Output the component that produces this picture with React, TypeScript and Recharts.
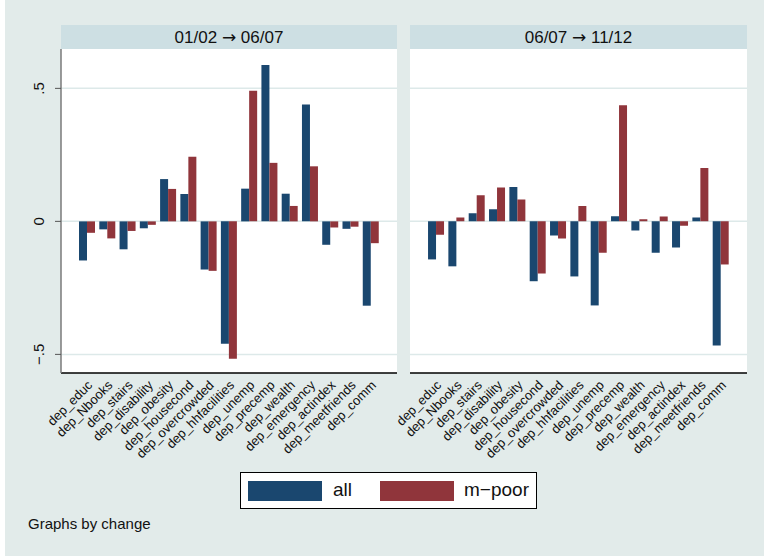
import React from "react";
import { BarChart, Bar, XAxis, YAxis, CartesianGrid } from "recharts";

const categories = [
  'dep_educ', 'dep_Nbooks', 'dep_stairs', 'dep_disability', 'dep_obesity',
  'dep_housecond', 'dep_overcrowded', 'dep_hhfacilities', 'dep_unemp', 'dep_precemp',
  'dep_wealth', 'dep_emergency', 'dep_actindex', 'dep_meetfriends', 'dep_comm',
];
// 01/02 -> 06/07
const allFirst = [-0.147, -0.030, -0.105, -0.026, 0.159, 0.103, -0.181, -0.460, 0.123, 0.588, 0.104, 0.439, -0.088, -0.028, -0.317];
const poorFirst = [-0.043, -0.064, -0.036, -0.013, 0.122, 0.243, -0.186, -0.516, 0.491, 0.220, 0.058, 0.207, -0.023, -0.020, -0.082];
// 06/07 -> 11/12
const allSecond = [-0.143, -0.169, 0.031, 0.046, 0.129, -0.225, -0.053, -0.207, -0.316, 0.019, -0.034, -0.118, -0.098, 0.015, -0.467];
const poorSecond = [-0.050, 0.015, 0.098, 0.127, 0.082, -0.196, -0.064, 0.058, -0.118, 0.437, 0.008, 0.018, -0.016, 0.201, -0.162];
const panelTitles = [['01/02', '06/07'], ['06/07', '11/12']];
const yTicks = [-0.5, 0, 0.5];
const yDomain = [-0.57, 0.648];

const NAVY = '#1a476f';
const MAROON = '#90353b';
const BG = '#e2ebea';
const STRIP = '#cddfe3';
const GRID = '#dde9e9';
const FONT = '"Liberation Sans", Arial, Helvetica, sans-serif';

const firstData = categories.map((name, i) => ({ name, all: allFirst[i], poor: poorFirst[i] }));
const secondData = categories.map((name, i) => ({ name, all: allSecond[i], poor: poorSecond[i] }));

const fmtY = (v: number) => (v === 0 ? '0' : (v < 0 ? '\u2212' : '') + String(Math.abs(v)).replace(/^0/, ''));

const XTick = (props: any) => {
  const { x, y, payload } = props;
  const tx = x + 6;
  const ty = y + 5;
  return (
    <text x={tx} y={ty} transform={`rotate(-45 ${tx} ${ty})`} textAnchor="end" fontSize={13} fill="#111" fontFamily={FONT}>
      {payload.value}
    </text>
  );
};

const YTick = (props: any) => {
  const { y, payload } = props;
  const tx = 44;
  return (
    <text x={tx} y={y} transform={`rotate(-90 ${tx} ${y})`} textAnchor="middle" fontSize={15} fill="#111" fontFamily={FONT}>
      {fmtY(payload.value)}
    </text>
  );
};

const Panel: React.FC<{ data: any[]; showY: boolean; width: number; left: number }> = ({ data, showY, width, left }) => (
  <BarChart width={width} height={430} data={data} margin={{ top: 0, right: 0, bottom: 0, left }} barCategoryGap="10%" barGap={0}>
    <CartesianGrid vertical={false} horizontalValues={yTicks} stroke={GRID} strokeWidth={1.5} />
    <XAxis
      dataKey="name"
      interval={0}
      height={106}
      padding={{ left: 16, right: 16 }}
      tickLine={false}
      axisLine={{ stroke: '#000', strokeWidth: 1.5 }}
      tick={<XTick />}
    />
    <YAxis
      type="number"
      domain={yDomain}
      ticks={yTicks}
      allowDataOverflow
      hide={!showY}
      width={61}
      tickSize={6}
      axisLine={{ stroke: '#7a7a7a', strokeWidth: 1.5 }}
      tickLine={{ stroke: '#555', strokeWidth: 1 }}
      tick={<YTick />}
    />
    <Bar dataKey="all" fill={NAVY} isAnimationActive={false} />
    <Bar dataKey="poor" fill={MAROON} isAnimationActive={false} />
  </BarChart>
);

const Strip: React.FC<{ left: number; width: number; title: string[] }> = ({ left, width, title }) => (
  <>
    <div style={{ position: 'absolute', left, top: 25, width, height: 24, background: STRIP, display: 'flex', alignItems: 'center', justifyContent: 'center', fontSize: 17, color: '#111', fontFamily: FONT }}>
      <span style={{ whiteSpace: 'pre' }}>
        {title[0] + ' '}
        <span style={{ fontFamily: '"DejaVu Sans", sans-serif' }}>{'\u2192'}</span>
        {' ' + title[1]}
      </span>
    </div>
    <div style={{ position: 'absolute', left, top: 49, width, height: 324, background: '#fff' }} />
  </>
);

const App: React.FC = () => (
  <div style={{ position: 'absolute', left: 0, top: 0, width: 764, height: 556, background: '#fff', overflow: 'hidden', fontFamily: FONT }}>
    <div style={{ position: 'absolute', left: 5, top: 0, width: 759, height: 556, background: BG }} />
    <Strip left={61} width={336} title={panelTitles[0]} />
    <Strip left={410} width={337} title={panelTitles[1]} />
    <div style={{ position: 'absolute', left: 0, top: 49 }}>
      <Panel data={firstData} showY width={397} left={0} />
    </div>
    <div style={{ position: 'absolute', left: 330, top: 49 }}>
      <Panel data={secondData} showY={false} width={417} left={80} />
    </div>
    <div style={{ position: 'absolute', left: 240, top: 472, width: 295, height: 35, border: '1.3px solid #000', background: '#fff' }}>
      <div style={{ position: 'absolute', left: 7, top: 8, width: 74, height: 20, background: NAVY }} />
      <div style={{ position: 'absolute', left: 92, top: 4, fontSize: 19, lineHeight: '26px', color: '#111' }}>all</div>
      <div style={{ position: 'absolute', left: 139, top: 8, width: 74, height: 20, background: MAROON }} />
      <div style={{ position: 'absolute', left: 223, top: 4, fontSize: 19, lineHeight: '26px', color: '#111' }}>m{'\u2212'}poor</div>
    </div>
    <div style={{ position: 'absolute', left: 28, top: 515, fontSize: 15, color: '#111' }}>Graphs by change</div>
  </div>
);

export default App;
